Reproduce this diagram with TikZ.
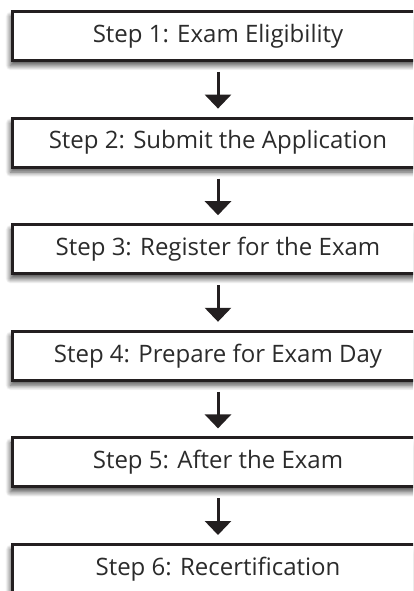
\documentclass[tikz,border=0pt]{standalone}
\usepackage{fontspec}
\setmainfont{Open Sans}
\usetikzlibrary{positioning,arrows.meta,shadows.blur}
\definecolor{boxline}{HTML}{231F20}
\definecolor{boxtext}{HTML}{2B2B2B}
\tikzstyle{stepbox}=[rectangle, draw=boxline, line width=3pt, fill=white, minimum width=411pt,
minimum height=49pt, inner sep=0pt, text centered, text=boxtext, font=\fontsize{24}{28}\selectfont,
blur shadow={shadow xshift=-2pt, shadow yshift=-5pt, shadow blur radius=5pt, shadow blur steps=10, shadow opacity=70}]
\tikzstyle{line}=[-{Triangle[width=26pt,length=14pt]}, line width=3pt, boxline]

\begin{document}
\begin{tikzpicture}[node distance=54.6pt, x=1pt, y=1pt]
\clip (0,0) rectangle (413,-591);
\useasboundingbox (0,0) rectangle (413,-591);

    \node (s1) [stepbox] at (218,-36) {Step 1: Exam Eligibility};
    \node (s2) [stepbox, below=of s1] {Step 2: Submit the Application};
    \node (s3) [stepbox, below=of s2] {Step 3: Register for the Exam};
    \node (s4) [stepbox, below=of s3] {Step 4: Prepare for Exam Day};
    \node (s5) [stepbox, below=of s4] {Step 5: After the Exam};
    \node (s6) [stepbox, below=of s5] {Step 6: Recertification};

% arrows between the steps
\foreach \a/\b in {s1/s2, s2/s3, s3/s4, s4/s5, s5/s6}
    \draw[line, shorten <=10pt, shorten >=8pt] (\a.south) -- (\b.north);

\end{tikzpicture}
\end{document}
